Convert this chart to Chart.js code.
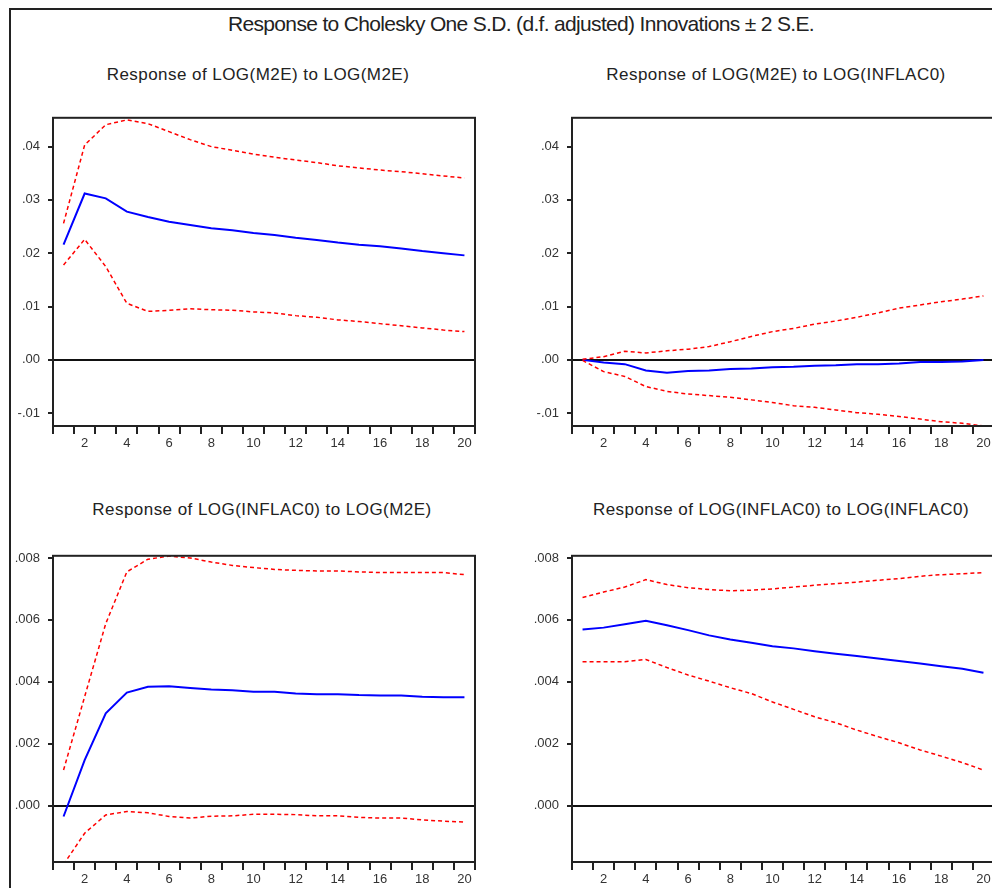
<!DOCTYPE html>
<html>
<head>
<meta charset="utf-8">
<script src="https://cdn.jsdelivr.net/npm/chart.js@4.4.1/dist/chart.umd.min.js"></script>
<style>
  html, body { margin: 0; padding: 0; background: #fff; overflow: hidden; width: 992px; height: 888px; }
  #frame { position: absolute; left: 9px; top: 8px; width: 1000px; height: 900px; border-left: 2px solid #222; border-top: 2px solid #222; }
  .ttl { position: absolute; font-family: "Liberation Sans", Arial, sans-serif; color: #222; white-space: nowrap; transform: translateX(-50%); }
  #main { left: 521px; top: 12px; font-size: 21px; letter-spacing: -0.67px; }
  .sub { font-size: 17px; letter-spacing: 0.45px; }
  canvas { position: absolute; }
</style>
</head>
<body>
<div id="frame"></div>
<div id="main" class="ttl">Response to Cholesky One S.D. (d.f. adjusted) Innovations ± 2 S.E.</div>
<div class="ttl sub" style="left:258px; top:65px;">Response of LOG(M2E) to LOG(M2E)</div>
<div class="ttl sub" style="left:776px; top:65px;">Response of LOG(M2E) to LOG(INFLAC0)</div>
<div class="ttl sub" style="left:262px; top:500px;">Response of LOG(INFLAC0) to LOG(M2E)</div>
<div class="ttl sub" style="left:781px; top:500px;">Response of LOG(INFLAC0) to LOG(INFLAC0)</div>
<canvas id="c1" width="496" height="354" style="left:0px; top:102px;"></canvas>
<canvas id="c2" width="496" height="354" style="left:519px; top:102px;"></canvas>
<canvas id="c3" width="496" height="352" style="left:0px; top:540px;"></canvas>
<canvas id="c4" width="496" height="352" style="left:519px; top:540px;"></canvas>
<script>
// Periods
const periods = [1,2,3,4,5,6,7,8,9,10,11,12,13,14,15,16,17,18,19,20];

// Response of LOG(M2E) to LOG(M2E)
const m2eM2eResp  = [0.0216,0.0312,0.0303,0.0278,0.0268,0.0259,0.0253,0.0247,0.0243,0.0238,0.0234,0.0229,0.0225,0.0220,0.0216,0.0213,0.0209,0.0204,0.0200,0.0196];
const m2eM2eUpper = [0.0256,0.0403,0.0441,0.0450,0.0443,0.0428,0.0413,0.0400,0.0393,0.0386,0.0380,0.0375,0.0370,0.0364,0.0360,0.0356,0.0353,0.0349,0.0345,0.0341];
const m2eM2eLower = [0.0178,0.0226,0.0175,0.0106,0.0091,0.0093,0.0096,0.0094,0.0093,0.0090,0.0088,0.0083,0.0080,0.0075,0.0072,0.0068,0.0064,0.0060,0.0056,0.0053];

// Response of LOG(M2E) to LOG(INFLAC0)
const m2eInflResp  = [0.0000,-0.0005,-0.0008,-0.0020,-0.0024,-0.0021,-0.0020,-0.0017,-0.0016,-0.0014,-0.0013,-0.0011,-0.0010,-0.0008,-0.0008,-0.0007,-0.0004,-0.0004,-0.0003,0.0000];
const m2eInflUpper = [0.0001,0.0006,0.0016,0.0013,0.0017,0.0020,0.0025,0.0034,0.0044,0.0053,0.0059,0.0067,0.0073,0.0080,0.0088,0.0097,0.0103,0.0109,0.0114,0.0120];
const m2eInflLower = [-0.0001,-0.0022,-0.0031,-0.0050,-0.0059,-0.0064,-0.0067,-0.0070,-0.0075,-0.0080,-0.0086,-0.0089,-0.0094,-0.0099,-0.0102,-0.0106,-0.0111,-0.0116,-0.0119,-0.0124];

// Response of LOG(INFLAC0) to LOG(M2E)
const inflM2eResp  = [-0.00035,0.00147,0.00298,0.00365,0.00384,0.00386,0.00380,0.00375,0.00373,0.00368,0.00368,0.00362,0.00360,0.00360,0.00357,0.00356,0.00356,0.00352,0.00350,0.00350];
const inflM2eUpper = [0.00115,0.00352,0.00588,0.00755,0.00796,0.00806,0.00800,0.00787,0.00776,0.00769,0.00763,0.00760,0.00758,0.00758,0.00755,0.00753,0.00753,0.00753,0.00753,0.00746];
const inflM2eLower = [-0.00190,-0.00089,-0.00030,-0.00019,-0.00023,-0.00035,-0.00040,-0.00034,-0.00033,-0.00028,-0.00028,-0.00029,-0.00033,-0.00033,-0.00038,-0.00040,-0.00040,-0.00046,-0.00050,-0.00053];

// Response of LOG(INFLAC0) to LOG(INFLAC0)
const inflInflResp  = [0.00569,0.00575,0.00586,0.00597,0.00583,0.00567,0.00550,0.00537,0.00526,0.00515,0.00508,0.00499,0.00491,0.00483,0.00475,0.00467,0.00459,0.00450,0.00442,0.00429];
const inflInflUpper = [0.00672,0.00690,0.00706,0.00730,0.00714,0.00704,0.00698,0.00694,0.00696,0.00700,0.00706,0.00712,0.00717,0.00722,0.00728,0.00733,0.00741,0.00746,0.00749,0.00753];
const inflInflLower = [0.00465,0.00465,0.00465,0.00472,0.00446,0.00422,0.00402,0.00381,0.00362,0.00335,0.00311,0.00287,0.00268,0.00244,0.00223,0.00203,0.00180,0.00160,0.00139,0.00115];

// Tick values
const xLabelTicks = [2,4,6,8,10,12,14,16,18,20];
const topYTicks = [-0.01, 0.00, 0.01, 0.02, 0.03, 0.04];
const bottomYTicks = [0.000, 0.002, 0.004, 0.006, 0.008];

const framePlugin = {
  id: 'frame',
  afterDraw(chart) {
    const a = chart.chartArea, ctx = chart.ctx;
    ctx.save();
    ctx.strokeStyle = '#222';
    ctx.lineWidth = 2;
    ctx.strokeRect(a.left, a.top, a.right - a.left, a.bottom - a.top);
    ctx.restore();
  }
};

function pts(arr) { return periods.map((p, i) => ({x: p, y: arr[i]})); }

function makeChart(id, resp, upper, lower, yMin, yMax, yTicks, decimals) {
  const tickFont = {family: '"Liberation Sans", Arial, sans-serif', size: 13};
  new Chart(document.getElementById(id), {
    type: 'line',
    data: {
      datasets: [
        {data: pts(upper), borderColor: '#ff0000', borderWidth: 1.5, borderDash: [4,3], pointRadius: 0, tension: 0},
        {data: pts(lower), borderColor: '#ff0000', borderWidth: 1.5, borderDash: [4,3], pointRadius: 0, tension: 0},
        {data: pts(resp), borderColor: '#0000ff', borderWidth: 2, pointRadius: 0, tension: 0}
      ]
    },
    options: {
      responsive: false,
      animation: false,
      events: [],
      layout: {padding: {top: 0, right: 21, left: 0, bottom: 0}},
      plugins: {legend: {display: false}, title: {display: false}, tooltip: {enabled: false}},
      scales: {
        x: {
          type: 'linear', min: 0.5, max: 20.5,
          afterBuildTicks(scale) {
            const t = [];
            for (let v = 0.5; v <= 20.5; v += 0.5) t.push({value: v});
            scale.ticks = t;
          },
          afterFit(scale) { scale.height = 30; },
          border: {display: false},
          grid: {
            drawOnChartArea: false, drawTicks: true, tickLength: 8,
            tickColor: (c) => (c.tick && Math.abs(c.tick.value % 1) > 0.01) ? '#222' : 'rgba(0,0,0,0)',
            lineWidth: 2
          },
          ticks: {
            autoSkip: false, maxRotation: 0, padding: 2, color: '#333', font: tickFont,
            callback: (v) => xLabelTicks.includes(v) ? String(v) : ''
          }
        },
        y: {
          min: yMin, max: yMax,
          afterBuildTicks(scale) { scale.ticks = yTicks.map(v => ({value: v})); },
          afterFit(scale) { scale.width = 53; },
          border: {display: false},
          grid: {
            drawOnChartArea: true, drawTicks: true, tickLength: 5,
            color: (c) => (c.tick && Math.abs(c.tick.value) < 1e-9) ? '#111' : 'rgba(0,0,0,0)',
            tickColor: '#222',
            lineWidth: 2
          },
          ticks: {
            padding: 8, color: '#333', font: tickFont,
            callback: (v) => {
              let s = Math.abs(v).toFixed(decimals).replace(/^0/, '');
              return v < -1e-12 ? '-' + s : s;
            }
          }
        }
      }
    },
    plugins: [framePlugin]
  });
}

makeChart('c1', m2eM2eResp, m2eM2eUpper, m2eM2eLower, -0.0124, 0.0454, topYTicks, 2);
makeChart('c2', m2eInflResp, m2eInflUpper, m2eInflLower, -0.0124, 0.0454, topYTicks, 2);
makeChart('c3', inflM2eResp, inflM2eUpper, inflM2eLower, -0.00182, 0.00807, bottomYTicks, 3);
makeChart('c4', inflInflResp, inflInflUpper, inflInflLower, -0.00182, 0.00807, bottomYTicks, 3);
</script>
</body>
</html>
